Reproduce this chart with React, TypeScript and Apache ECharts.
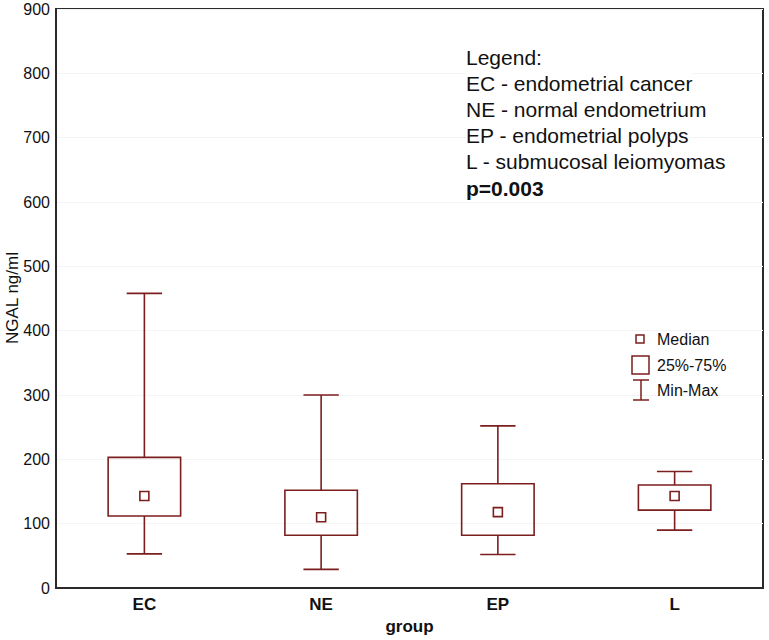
import React, { useEffect, useRef } from "react";
import * as echarts from "echarts";

const categories = ["EC", "NE", "EP", "L"];
const minValues = [53, 29, 52, 90];
const q1Values = [112, 82, 82, 121];
const medianValues = [143, 110, 118, 143];
const q3Values = [203, 152, 162, 160];
const maxValues = [458, 300, 252, 181];
const yTicks = { min: 0, max: 900, interval: 100 };
const yAxisTitle = "NGAL ng/ml";
const legendLines = [
  "Legend:",
  "EC - endometrial cancer",
  "NE - normal endometrium",
  "EP - endometrial polyps",
  "L - submucosal leiomyomas",
];
const pValueText = "p=0.003";
const symbolLabels = ["Median", "25%-75%", "Min-Max"];

const RED = "#7b1e1e";
const FONT = 'Arial, "Liberation Sans", sans-serif';

export default function App() {
  const ref = useRef<HTMLDivElement>(null);
  useEffect(() => {
    if (!ref.current) return;
    const chart = echarts.init(ref.current, null, { renderer: "svg" });
    const data = categories.map((_, i) => [
      i,
      minValues[i],
      q1Values[i],
      medianValues[i],
      q3Values[i],
      maxValues[i],
    ]);
    const legendY = [57, 83, 109, 135, 161];
    const graphics: any[] = legendLines.map((t, i) => ({
      type: "text",
      x: 466,
      y: legendY[i],
      z: 100,
      style: {
        text: t,
        fill: "#111",
        font: `21px ${FONT}`,
        verticalAlign: "middle",
        backgroundColor: "#fff",
      },
    }));
    graphics.push({
      type: "text",
      x: 466,
      y: 188,
      z: 100,
      style: {
        text: pValueText,
        fill: "#111",
        font: `bold 21px ${FONT}`,
        verticalAlign: "middle",
        backgroundColor: "#fff",
      },
    });
    graphics.push({
      type: "text",
      x: 12,
      y: 298,
      rotation: Math.PI / 2,
      z: 100,
      style: {
        text: yAxisTitle,
        fill: "#111",
        font: `17px ${FONT}`,
        align: "center",
        verticalAlign: "middle",
      },
    });
    const symStroke = { stroke: RED, lineWidth: 1.5, fill: "none" };
    graphics.push(
      { type: "rect", z: 100, shape: { x: 636, y: 335, width: 8, height: 8 }, style: symStroke },
      { type: "rect", z: 100, shape: { x: 632, y: 356, width: 17, height: 18 }, style: symStroke },
      { type: "line", z: 100, shape: { x1: 641, y1: 380, x2: 641, y2: 400 }, style: symStroke },
      { type: "line", z: 100, shape: { x1: 633, y1: 380, x2: 649, y2: 380 }, style: symStroke },
      { type: "line", z: 100, shape: { x1: 633, y1: 400, x2: 649, y2: 400 }, style: symStroke }
    );
    const symY = [339, 365, 390];
    symbolLabels.forEach((t, i) => {
      graphics.push({
        type: "text",
        x: 657,
        y: symY[i],
        z: 100,
        style: { text: t, fill: "#111", font: `16px ${FONT}`, verticalAlign: "middle" },
      });
    });

    chart.setOption({
      animation: false,
      backgroundColor: "#fff",
      grid: {
        left: 56,
        right: 6,
        top: 9,
        bottom: 52,
        containLabel: false,
        outerBoundsMode: "none",
        show: true,
        borderColor: "#2a2a2a",
        borderWidth: 2,
        backgroundColor: "transparent",
      },
      xAxis: [
        {
          type: "category",
          data: categories,
          position: "bottom",
          name: "group",
          nameLocation: "middle",
          nameGap: 29,
          nameTextStyle: { fontFamily: FONT, fontSize: 17, fontWeight: "bold", color: "#111" },
          axisLine: { lineStyle: { color: "#2a2a2a", width: 2 } },
          axisTick: { inside: true, alignWithLabel: true, length: 5, lineStyle: { color: "#2a2a2a" } },
          axisLabel: { fontFamily: FONT, fontSize: 17, fontWeight: "bold", color: "#111", margin: 8 },
          splitLine: { show: false },
        },
        {
          type: "category",
          data: categories,
          position: "top",
          axisLine: { show: false },
          axisTick: { inside: true, alignWithLabel: true, length: 5, lineStyle: { color: "#2a2a2a" } },
          axisLabel: { show: false },
        },
      ],
      yAxis: {
        type: "value",
        min: yTicks.min,
        max: yTicks.max,
        interval: yTicks.interval,
        axisLine: { show: true, lineStyle: { color: "#2a2a2a", width: 2 } },
        axisTick: { show: false },
        axisLabel: { fontFamily: FONT, fontSize: 16, color: "#111", margin: 6 },
        splitLine: { show: true, lineStyle: { color: "#f4f4f4", width: 1 } },
      },
      graphic: graphics,
      series: [
        {
          type: "custom",
          xAxisIndex: 0,
          encode: { x: 0, y: [1, 2, 3, 4, 5] },
          data,
          renderItem: (params: any, api: any) => {
            const idx = api.value(0);
            const mn = api.coord([idx, api.value(1)]);
            const q1 = api.coord([idx, api.value(2)]);
            const md = api.coord([idx, api.value(3)]);
            const q3 = api.coord([idx, api.value(4)]);
            const mx = api.coord([idx, api.value(5)]);
            const band = api.size([1, 0])[0];
            const cx = mn[0];
            const boxW = band * 0.41;
            const capW = band * 0.2;
            const sq = 9;
            const st = { stroke: RED, lineWidth: 1.6, fill: "none" };
            return {
              type: "group",
              children: [
                { type: "line", shape: { x1: cx, y1: mx[1], x2: cx, y2: q3[1] }, style: st },
                { type: "line", shape: { x1: cx - capW / 2, y1: mx[1], x2: cx + capW / 2, y2: mx[1] }, style: st },
                { type: "line", shape: { x1: cx, y1: q1[1], x2: cx, y2: mn[1] }, style: st },
                { type: "line", shape: { x1: cx - capW / 2, y1: mn[1], x2: cx + capW / 2, y2: mn[1] }, style: st },
                {
                  type: "rect",
                  shape: { x: cx - boxW / 2, y: q3[1], width: boxW, height: q1[1] - q3[1] },
                  style: st,
                },
                {
                  type: "rect",
                  shape: { x: cx - sq / 2, y: md[1] - sq / 2, width: sq, height: sq },
                  style: st,
                },
              ],
            };
          },
        },
      ],
    });
    return () => chart.dispose();
  }, []);
  return (
    <div
      ref={ref}
      style={{ position: "absolute", left: 0, top: 0, width: 769, height: 640 }}
    />
  );
}
